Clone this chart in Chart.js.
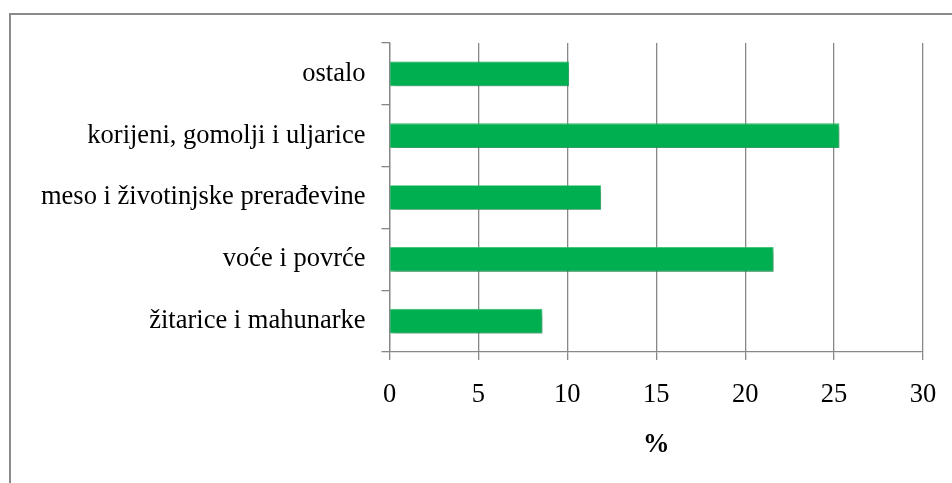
<!DOCTYPE html>
<html>
<head>
<meta charset="utf-8">
<script src="https://cdn.jsdelivr.net/npm/chart.js@4/dist/chart.umd.min.js"></script>
<style>
html,body{margin:0;padding:0;background:#fff;}
#wrap{position:relative;width:952px;height:483px;}
canvas{display:block;}
</style>
</head>
<body>
<div id="wrap"><canvas id="c" width="952" height="483"></canvas></div>
<script>
const categories = ["ostalo", "korijeni, gomolji i uljarice", "meso i životinjske prerađevine", "voće i povrće", "žitarice i mahunarke"];
const values = [10.1, 25.3, 11.9, 21.6, 8.6];
const xTicks = [0, 5, 10, 15, 20, 25, 30];
const axisTitle = "%";

const FONT = "'Liberation Serif', 'Times New Roman', serif";

const frame = {
  id: 'frame',
  beforeDraw(chart) {
    const ctx = chart.ctx;
    ctx.save();
    ctx.fillStyle = '#fff';
    ctx.fillRect(0, 0, chart.width, chart.height);
    ctx.strokeStyle = '#8a8a8a';
    ctx.lineWidth = 2;
    ctx.strokeRect(10, 14, chart.width + 20, chart.height + 20);
    ctx.restore();
  }
};

const shadow = {
  id: 'shadow',
  beforeDatasetsDraw(chart) {
    const ctx = chart.ctx;
    ctx.save();
    ctx.shadowColor = 'rgba(0,0,0,0.35)';
    ctx.shadowBlur = 5;
    ctx.shadowOffsetX = 2;
    ctx.shadowOffsetY = 3;
  },
  afterDatasetsDraw(chart) {
    chart.ctx.restore();
  }
};

new Chart(document.getElementById('c'), {
  type: 'bar',
  data: {
    labels: categories,
    datasets: [{
      data: values,
      backgroundColor: '#00AF50',
      borderColor: '#2fc46f',
      borderWidth: 0.8,
      borderSkipped: 'start',
      barPercentage: 0.4,
      categoryPercentage: 1
    }]
  },
  options: {
    indexAxis: 'y',
    responsive: false,
    animation: false,
    layout: { padding: { left: 0, right: 29, top: 43, bottom: 22 } },
    plugins: { legend: { display: false }, tooltip: { enabled: false } },
    scales: {
      x: {
        min: 0, max: 30,
        afterBuildTicks(scale) { scale.ticks = xTicks.map(v => ({ value: v })); },
        afterFit(scale) { scale.height = 109; scale.paddingLeft = 0; scale.paddingRight = 0; },
        border: { display: true, color: '#888', width: 1.3 },
        grid: { color: '#888', lineWidth: 1.3, tickLength: 8, drawTicks: true },
        ticks: { color: '#000', font: { family: FONT, size: 26.5 }, padding: 19, maxRotation: 0 },
        title: { display: true, text: axisTitle, color: '#000', font: { family: FONT, size: 26.5, weight: 'bold' }, padding: { top: 12, bottom: 0 } }
      },
      y: {
        afterFit(scale) { scale.width = 389.5; scale.paddingTop = 0; scale.paddingBottom = 0; },
        border: { display: true, color: '#888', width: 1.3 },
        grid: { drawOnChartArea: false, color: '#888', lineWidth: 1.3, tickLength: 8, offset: true },
        ticks: { color: '#000', font: { family: FONT, size: 26.5 }, padding: 16 }
      }
    }
  },
  plugins: [frame, shadow]
});
</script>
</body>
</html>
